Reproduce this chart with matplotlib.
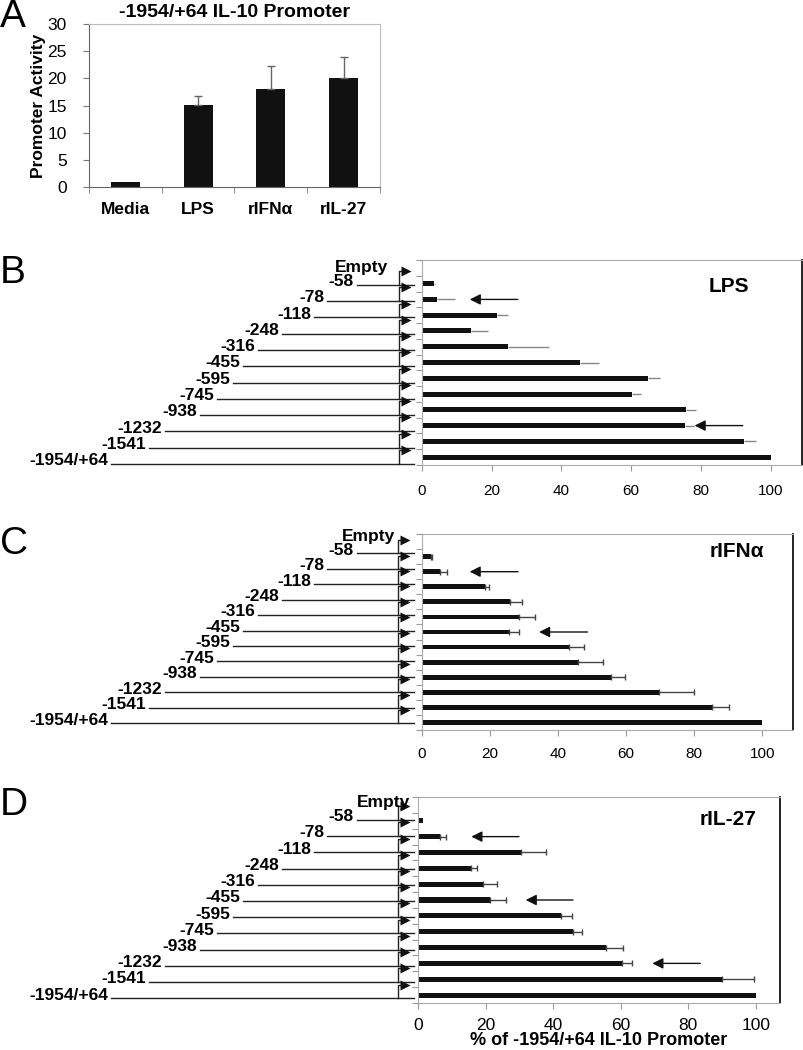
import numpy as np
import matplotlib
matplotlib.use("Agg")
import matplotlib.pyplot as plt

plt.rcParams['font.family'] = ['Liberation Sans', 'DejaVu Sans']

W, H = 804, 1050

# Panel A: full-length promoter activity
stimuli = ['Media', 'LPS', 'rIFNα', 'rIL-27']
activity = [1.0, 15.1, 18.0, 20.1]
activity_err = [0.0, 1.6, 4.3, 3.9]

# Panels B-D: deletion constructs, % of full-length promoter
constructs = ['Empty', '-58', '-78', '-118', '-248', '-316', '-455', '-595',
              '-745', '-938', '-1232', '-1541', '-1954/+64']

lps_pct = [0, 3.3, 4.3, 21.4, 14.1, 24.7, 45.2, 64.7, 60.3, 75.7, 75.4, 92.5, 100]
lps_err = [0, 0.3, 5.3, 3.3, 4.9, 11.6, 5.7, 3.7, 2.6, 3.0, 2.5, 3.4, 0]
ifn_pct = [0, 2.5, 5.4, 18.5, 25.8, 28.4, 25.6, 43.1, 45.9, 55.5, 69.5, 85.2, 100]
ifn_err = [0, 0.3, 1.8, 1.2, 3.7, 4.7, 2.9, 4.4, 7.4, 4.2, 10.5, 5.0, 0]
il27_pct = [0, 1.5, 6.4, 30.5, 15.6, 19.2, 21.2, 42.2, 46.0, 55.6, 60.5, 90.1, 100]
il27_err = [0, 0, 2.0, 7.5, 1.9, 4.2, 5.0, 3.4, 2.7, 5.1, 2.9, 9.3, 0]

# highlighted constructs: (row, tail, head)
lps_arrows = [(2, 27.5, 13.7), (10, 92.0, 78.2)]
ifn_arrows = [(2, 28.2, 14.0), (6, 48.6, 34.4)]
il27_arrows = [(2, 29.9, 15.8), (6, 45.9, 31.9), (10, 83.6, 69.4)]

# schematic: where each construct line starts (pixels), -58 ... -1954/+64
line_start = [357, 327, 314, 282, 258, 243, 233, 217, 200, 165, 149, 111]

fig = plt.figure(figsize=(W / 100, H / 100), dpi=100)


def px_axes(left, top, right, bottom):
    return fig.add_axes([left / W, 1 - bottom / H, (right - left) / W, (bottom - top) / H])


def panel_letter(y, letter):
    fig.text(0, 1 - y / H, letter, fontsize=28, ha='left', va='center')


# ---- Panel A ----
axA = px_axes(89, 24, 380, 187)
x = np.arange(len(stimuli))
axA.bar(x, activity, width=0.4, color='#111111')
has_err = np.array(activity_err) > 0
axA.errorbar(x[has_err], np.array(activity)[has_err],
             yerr=[np.zeros(has_err.sum()), np.array(activity_err)[has_err]],
             fmt='none', ecolor='#666666', elinewidth=1, capsize=3)
axA.set_xlim(-0.5, len(stimuli) - 0.5)
axA.set_ylim(0, 30)
axA.set_yticks(range(0, 31, 5))
axA.set_xticks(x)
axA.set_xticklabels(stimuli, fontweight='bold', fontsize=12.5)
axA.set_xticks(np.arange(-0.5, len(stimuli), 1), minor=True)
axA.tick_params(axis='x', which='major', length=0, pad=11)
axA.tick_params(axis='x', which='minor', length=4, color='#777777')
axA.tick_params(axis='y', length=4, pad=12, labelsize=12.5, color='#777777')
for s in ['top', 'right']:
    axA.spines[s].set_color('#bbbbbb')
for s in ['left', 'bottom']:
    axA.spines[s].set_color('#666666')
axA.set_ylabel('Promoter Activity', fontsize=12.5, fontweight='bold', labelpad=1)
axA.set_title('-1954/+64 IL-10 Promoter', fontsize=14, fontweight='bold', pad=5)
panel_letter(17, 'A')


def draw_constructs(ax, empty_x, stem_x):
    n = len(constructs)
    ax.set_xlim(0, 422)
    ax.set_ylim(n - 0.5, -0.5)
    ax.axis('off')
    ax.text(empty_x, -0.1, constructs[0], ha='right', va='center',
            fontsize=12.5, fontweight='bold')
    for i, (name, x0) in enumerate(zip(constructs[1:], line_start), start=1):
        ax.plot([x0, 414], [i, i], color='#222222', lw=1)
        ax.text(x0 - 3, i - 0.2, name, ha='right', va='center',
                fontsize=12.5, fontweight='bold')
        ax.plot([stem_x, stem_x, stem_x + 5], [i, i - 0.85, i - 0.85],
                color='#222222', lw=1)
        ax.plot(stem_x + 7, i - 0.85, marker='>', ms=7.5, color='#111111', mec='none')


def draw_bars(ax, pct, err, arrows, name, name_xy, xmax, capsize, ecolor,
              tickfont=None, pad=9):
    n = len(constructs)
    rows = np.arange(n)
    pct = np.array(pct)
    err = np.array(err)
    ax.barh(rows, pct, height=0.32, color='#111111')
    m = err > 0
    ax.errorbar(pct[m], rows[m], xerr=[np.zeros(m.sum()), err[m]], fmt='none',
                ecolor=ecolor, elinewidth=1, capsize=capsize)
    for r, tail, head in arrows:
        ax.annotate('', xy=(head, r), xytext=(tail, r),
                    arrowprops=dict(arrowstyle='-|>', color='#111111', lw=1,
                                    mutation_scale=16, shrinkA=0, shrinkB=0))
    ax.text(name_xy[0], name_xy[1], name, ha='center', va='center',
            fontsize=15, fontweight='bold')
    ax.set_xlim(0, xmax)
    ax.set_ylim(n - 0.5, -0.5)
    ax.set_yticks(np.arange(-0.5, n, 1))
    ax.set_yticklabels([])
    ax.set_xticks(range(0, 101, 20))
    ax.tick_params(axis='y', length=4, color='#999999')
    ax.tick_params(axis='x', length=4, color='#999999', labelsize=11, pad=pad)
    if tickfont:
        for lab in ax.get_xticklabels():
            lab.set_family(tickfont)
            lab.set_fontsize(12.5)
    for s in ['left', 'bottom', 'top']:
        ax.spines[s].set_color('#aaaaaa')
    ax.spines['right'].set_color('#111111')
    ax.spines['right'].set_linewidth(1.3)


# ---- Panel B ----
axBd = px_axes(0, 260.5, 422, 472)
draw_constructs(axBd, 388, 399)
axB = px_axes(422, 260, 802, 465)
draw_bars(axB, lps_pct, lps_err, lps_arrows, 'LPS', (88, 1.15), 109, 0, '#888888', pad=10)
panel_letter(273, 'B')

# ---- Panel C ----
axCd = px_axes(0, 530, 422, 731)
draw_constructs(axCd, 395, 398)
axC = px_axes(422, 534, 793, 730)
draw_bars(axC, ifn_pct, ifn_err, ifn_arrows, 'rIFNα', (92.5, 0.63), 109, 2, '#444444', pad=8)
panel_letter(544, 'C')

# ---- Panel D ----
axDd = px_axes(0, 795.7, 422, 1006.4)
draw_constructs(axDd, 410, 398)
axD = px_axes(418, 797, 780, 1003)
draw_bars(axD, il27_pct, il27_err, il27_arrows, 'rIL-27', (91.8, 0.95), 107.2, 2, '#444444',
          tickfont=['Liberation Sans Narrow', 'Liberation Sans'], pad=7)
axD.set_xlabel('% of -1954/+64 IL-10 Promoter', fontsize=13, fontweight='bold', labelpad=-1)
panel_letter(805, 'D')

fig.savefig('out.png', dpi=100)
